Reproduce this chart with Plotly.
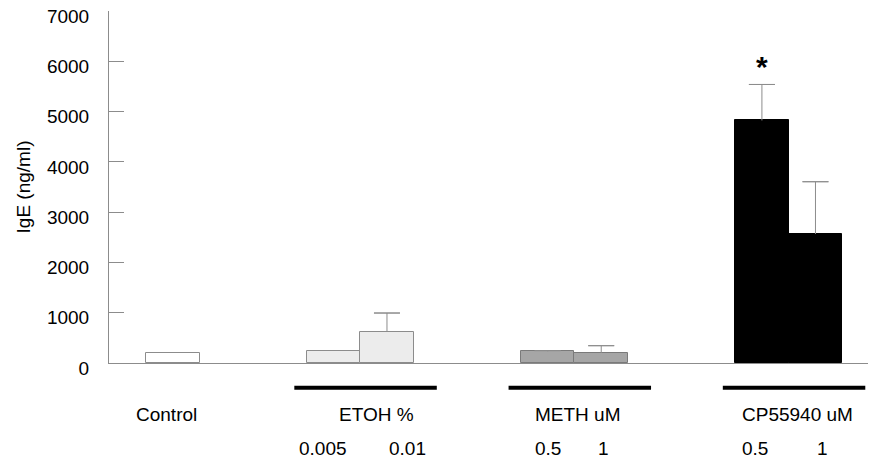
import plotly.graph_objects as go

# ---- data ----
groups = ["Control", "ETOH %", "METH uM", "CP55940 uM"]
bar_slots = [0, 3, 4, 7, 8, 11, 12]
bar_group = [0, 1, 1, 2, 2, 3, 3]
dose_labels = ["", "0.005", "0.01", "0.5", "1", "0.5", "1"]
ige_values = [200, 245, 616, 231, 199, 4823, 2565]
ige_err = [0, 0, 378, 15, 145, 716, 1040]
significant = [False, False, False, False, False, True, False]
y_ticks = [0, 1000, 2000, 3000, 4000, 5000, 6000, 7000]

# ---- styling ----
group_colors = ["#ffffff", "#ececec", "#a6a6a6", "#000000"]
group_edges = ["#8c8c8c", "#8c8c8c", "#7a7a7a", "#000000"]
FONT = "Liberation Sans, Arial, sans-serif"
GRAY = "#8c8c8c"
FS = 19

fig = go.Figure()
fig.add_trace(go.Bar(
    x=bar_slots,
    y=ige_values,
    width=1,
    marker=dict(color=[group_colors[g] for g in bar_group],
                line=dict(color=[group_edges[g] for g in bar_group], width=1)),
    showlegend=False, hoverinfo="y",
))

# error bar stems (no caps)
err_x = [s for s, e in zip(bar_slots, ige_err) if e > 0]
err_base = [v for v, e in zip(ige_values, ige_err) if e > 0]
err_len = [e for e in ige_err if e > 0]
fig.add_trace(go.Scatter(
    x=err_x, y=err_base, mode="markers", marker=dict(size=0.1, opacity=0),
    error_y=dict(type="data", array=err_len, arrayminus=[0] * len(err_len),
                 symmetric=False, color=GRAY, thickness=1, width=0),
    showlegend=False, hoverinfo="skip",
))
# error bar caps
fig.add_trace(go.Scatter(
    x=err_x, y=[b + e for b, e in zip(err_base, err_len)], mode="markers",
    marker=dict(size=0.1, opacity=0),
    error_y=dict(type="data", array=[0] * len(err_len), symmetric=True,
                 color=GRAY, thickness=1, width=13),
    showlegend=False, hoverinfo="skip",
))

annotations = []
shapes = []

# group underline bars and group labels
label_shift = [-6, 16, 4, 9]
for gi, name in enumerate(groups):
    slots = [s for s, g in zip(bar_slots, bar_group) if g == gi]
    center = sum(slots) / len(slots)
    if len(slots) > 1:
        shapes.append(dict(type="line", xref="x", yref="paper",
                           x0=min(slots) - 0.73, x1=max(slots) + 0.93,
                           y0=-0.070, y1=-0.070,
                           line=dict(color="black", width=4)))
    annotations.append(dict(x=center, y=-0.147, xref="x", yref="paper",
                            text=name, showarrow=False, xshift=label_shift[gi],
                            xanchor="center", yanchor="middle",
                            font=dict(family=FONT, size=FS, color="black")))

# dose labels
dose_shift = [0, -10, 21, 0, 2, -7, 7]
for s, lab, dx in zip(bar_slots, dose_labels, dose_shift):
    if lab:
        annotations.append(dict(x=s, y=-0.244, xref="x", yref="paper",
                                text=lab, showarrow=False, xshift=dx,
                                xanchor="center", yanchor="middle",
                                font=dict(family=FONT, size=FS, color="black")))

# significance marks
for s, v, e, sig in zip(bar_slots, ige_values, ige_err, significant):
    if sig:
        annotations.append(dict(x=s, y=v + e, xref="x", yref="y",
                                text="<b>*</b>", showarrow=False,
                                xanchor="center", yanchor="bottom", yshift=-1,
                                font=dict(family=FONT, size=30, color="black")))

# the page body adds an 8px offset, so the figure is sized to fit the window
fig.update_layout(
    width=868, height=454,
    margin=dict(l=101, r=0, t=3, b=99, autoexpand=False),
    paper_bgcolor="white", plot_bgcolor="white",
    bargap=0,
    font=dict(family=FONT, size=FS, color="black"),
    xaxis=dict(range=[-1.19, 13.13], showline=True, linecolor=GRAY, linewidth=1,
               showgrid=False, zeroline=False, showticklabels=False, ticks="",
               automargin=False),
    yaxis=dict(range=[0, 7000], showline=True, linecolor=GRAY, linewidth=1,
               showgrid=False, zeroline=False, automargin=False,
               tickmode="array", tickvals=y_ticks, ticks="",
               ticklabelstandoff=15, ticklabelshift=5,
               ticklabeloverflow="allow",
               tickfont=dict(family=FONT, size=FS, color="black"),
               minor=dict(tickmode="array", tickvals=y_ticks[1:-1],
                          ticks="inside", ticklen=15, tickcolor=GRAY,
                          tickwidth=1, showgrid=False),
               title=dict(text="IgE (ng/ml)", standoff=11,
                          font=dict(family=FONT, size=FS, color="black"))),
    shapes=shapes,
    annotations=annotations,
)

fig.write_html("out.html")
